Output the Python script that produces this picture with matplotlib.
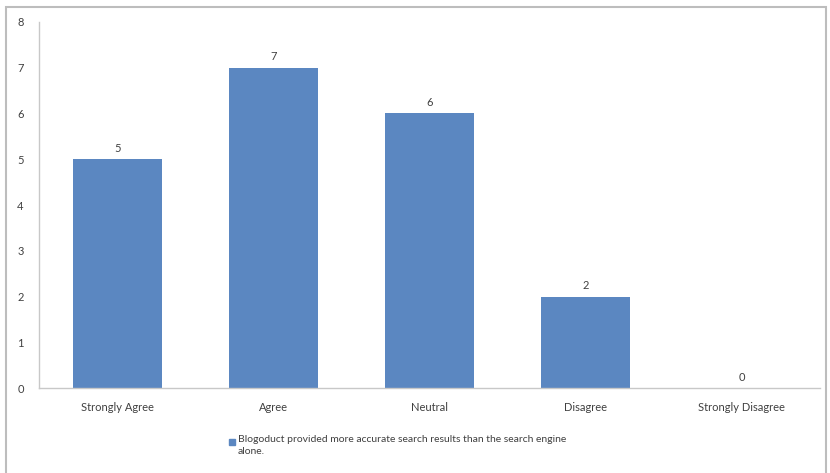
import matplotlib.pyplot as plt
from matplotlib.patches import Rectangle

# Данные
categories = ['Strongly Agree', 'Agree', 'Neutral', 'Disagree', 'Strongly Disagree']
counts = [5, 7, 6, 2, 0]
series_name = 'Blogoduct provided more accurate search results than the search engine\nalone.'

bar_color = '#5b87c1'
text_color = '#404040'
axis_color = '#c8c8c8'

plt.rcParams['font.family'] = ['Lato', 'DejaVu Sans']

fig = plt.figure(figsize=(8.3, 4.73), dpi=100)
ax = fig.add_axes([39 / 830, 85 / 473, 781 / 830, 366 / 473])

x = range(len(categories))
bars = ax.bar(x, counts, width=0.57, color=bar_color)

for b, v in zip(bars, counts):
    ax.text(b.get_x() + b.get_width() / 2, v + 0.12, str(v), ha='center', va='bottom',
            fontsize=8, color=text_color)

ax.set_xlim(-0.5, len(categories) - 0.5)
ax.set_ylim(0, 8)
ax.set_yticks(range(0, 9))
ax.set_xticks(list(x))
ax.set_xticklabels(categories)
ax.tick_params(axis='both', length=0, labelsize=8, labelcolor=text_color)
ax.tick_params(axis='x', pad=10)
ax.tick_params(axis='y', pad=11)

for side in ['top', 'right']:
    ax.spines[side].set_visible(False)
for side in ['left', 'bottom']:
    ax.spines[side].set_color(axis_color)
    ax.spines[side].set_linewidth(1)

# Легенда внизу
fig.patches.append(Rectangle((229 / 830, 1 - 445 / 473), 6 / 830, 6 / 473,
                             transform=fig.transFigure, color=bar_color))
fig.text(238 / 830, 1 - 435 / 473, series_name, ha='left', va='top',
         fontsize=7.5, color=text_color, linespacing=1.45)

# Рамка диаграммы
fig.patches.append(Rectangle((6 / 830, -0.05), 820 / 830, 1.05 - 7 / 473,
                             transform=fig.transFigure, fill=False,
                             edgecolor='#bdbdbd', linewidth=1.5))

plt.savefig('out.png', dpi=100)
